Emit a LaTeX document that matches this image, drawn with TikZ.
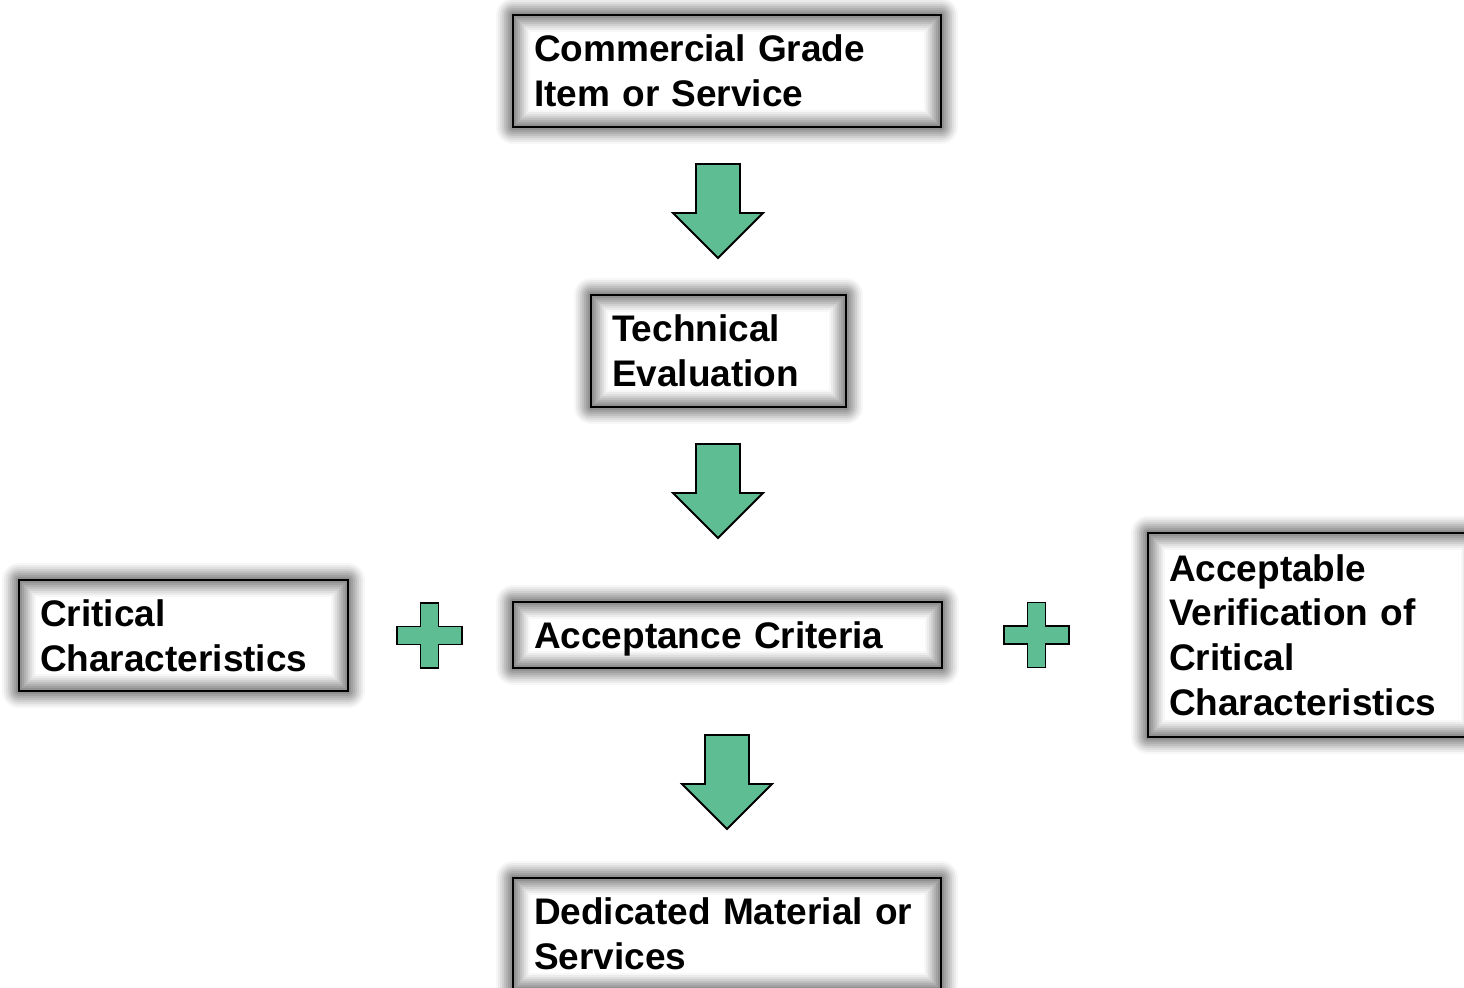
\documentclass[tikz,border=0pt]{standalone}
\usepackage{fontspec}
\setmainfont{Liberation Sans}
\usepackage{tikz}

\definecolor{arrowgreen}{RGB}{94,189,147}

\tikzset{
    glowbox/.style={draw=black, line width=1pt, outer sep=0pt, inner xsep=10.5pt,
        anchor=north west, align=left,
        font=\fontsize{18.5}{22.3}\selectfont\bfseries,
        preaction={fill=white},
        preaction={draw=black!3, line width=17pt, line join=round},
        preaction={draw=black!8, line width=15pt, line join=round},
        preaction={draw=black!13, line width=13pt, line join=round},
        preaction={draw=black!19, line width=11pt, line join=round},
        preaction={draw=black!25, line width=9pt, line join=round},
        preaction={draw=black!31, line width=7pt, line join=round},
        preaction={draw=black!37, line width=5pt, line join=round},
        preaction={draw=black!43, line width=3pt, line join=round}},
    greenshape/.style={fill=arrowgreen, draw=black, line width=0.9pt, line join=miter},
    pics/downarrow/.style={code={
        \draw[greenshape] (-22,0) -- (22,0) -- (22,49) -- (45,49) -- (0,94)
            -- (-45,49) -- (-22,49) -- cycle;
    }},
    pics/plussign/.style={code={
        \draw[greenshape] (-9,-32.5) -- (9,-32.5) -- (9,-9) -- (32.5,-9) -- (32.5,9)
            -- (9,9) -- (9,32.5) -- (-9,32.5) -- (-9,9) -- (-32.5,9) -- (-32.5,-9)
            -- (-9,-9) -- cycle;
    }}
}

\begin{document}
\begin{tikzpicture}[x=0.5pt, y=-0.5pt]
    \useasboundingbox (0,0) rectangle (1464,988);

    % main column
    \node[glowbox, text width=193pt, minimum height=56pt] (item) at (513,15)
        {Commercial Grade\\Item or Service};
    \node[glowbox, text width=106.5pt, minimum height=56pt] (tech) at (591,295)
        {Technical\\Evaluation};
    \node[glowbox, text width=193.5pt, minimum height=33pt, text depth=0pt] (accept) at (513,602)
        {Acceptance Criteria};
    \node[glowbox, text width=193pt, minimum height=56pt] (dedicated) at (513,878)
        {Dedicated Material or\\Services};

    % side boxes
    \node[glowbox, text width=143.5pt, minimum height=55.5pt] (critical) at (19,580)
        {Critical\\Characteristics};
    \node[glowbox, text width=144pt, minimum height=102pt] (verify) at (1148,533)
        {Acceptable\\Verification of\\Critical\\Characteristics};

    % block arrows and plus signs
    \pic (arrowA) at (718,164) {downarrow};
    \pic (arrowB) at (718,444) {downarrow};
    \pic (arrowC) at (727,735) {downarrow};
    \pic (plusL) at (429.5,635.5) {plussign};
    \pic (plusR) at (1036.5,635) {plussign};
\end{tikzpicture}
\end{document}
